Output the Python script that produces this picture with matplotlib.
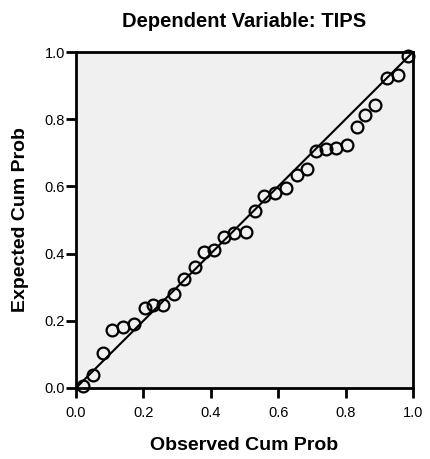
import numpy as np
from matplotlib import pyplot as plt

# observed vs expected cumulative probabilities
observed = [0.020, 0.050, 0.079, 0.108, 0.140, 0.172, 0.205, 0.229, 0.259, 0.291,
            0.320, 0.353, 0.381, 0.410, 0.440, 0.470, 0.504, 0.532, 0.558, 0.590,
            0.623, 0.655, 0.685, 0.712, 0.742, 0.773, 0.805, 0.833, 0.858, 0.887,
            0.922, 0.955, 0.986]
expected = [0.006, 0.039, 0.105, 0.173, 0.182, 0.190, 0.237, 0.247, 0.247, 0.280,
            0.323, 0.359, 0.406, 0.410, 0.450, 0.460, 0.465, 0.528, 0.571, 0.579,
            0.594, 0.634, 0.651, 0.706, 0.710, 0.713, 0.723, 0.778, 0.8125, 0.842,
            0.922, 0.932, 0.988]
ticks = [0.0, 0.2, 0.4, 0.6, 0.8, 1.0]
tick_labels = ["0.0", "0.2", "0.4", "0.6", "0.8", "1.0"]

plt.rcParams['font.family'] = ['Liberation Sans', 'DejaVu Sans']

fig = plt.figure(figsize=(4.3, 4.59), dpi=100)
ax = fig.add_axes([0.1767, 0.1547, 0.7837, 0.732])
ax.set_facecolor("#f0f0f0")

ax.plot([0, 1], [0, 1], color="black", lw=1.5, zorder=2)
ax.plot(observed, expected, linestyle="none", marker="o", markersize=8.5,
        markerfacecolor="none", markeredgecolor="black", markeredgewidth=1.6,
        zorder=3, clip_on=False)

ax.set_xlim(0, 1)
ax.set_ylim(0, 1)
ax.set_xticks(ticks)
ax.set_xticklabels(tick_labels)
ax.set_yticks(ticks)
ax.set_yticklabels(tick_labels)
for s in ax.spines.values():
    s.set_linewidth(2)
ax.tick_params(direction="out", length=7, width=2, labelsize=10.5)
ax.tick_params(axis="x", pad=6)
ax.tick_params(axis="y", pad=1)

ax.set_title("Dependent Variable: TIPS", fontsize=14.5, fontweight="bold", pad=18)
ax.set_xlabel("Observed Cum Prob", fontsize=14, fontweight="bold", labelpad=12)
ax.set_ylabel("Expected Cum Prob", fontsize=14, fontweight="bold", labelpad=11)

fig.savefig("out.png", dpi=100)
